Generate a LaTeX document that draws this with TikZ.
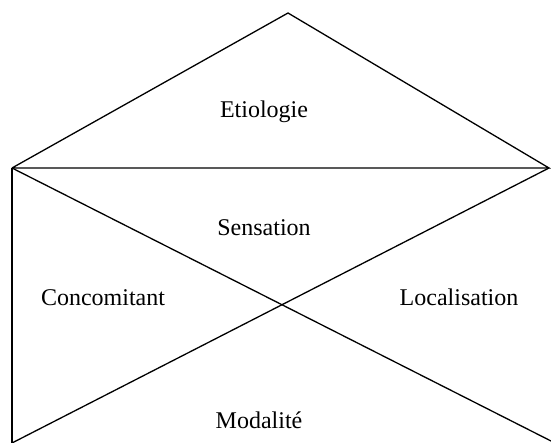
\documentclass[tikz,border=0pt]{standalone}
\usepackage{fontspec}
\setmainfont{Liberation Serif}
\usetikzlibrary{positioning}
\usetikzlibrary{calc}

\begin{document}
\begin{tikzpicture}[x=1pt,y=-1pt,line width=1.3pt,
                    zone node/.style={font=\fontsize{24}{28}\selectfont,inner sep=1pt}]
      \useasboundingbox (0,0) rectangle (551,443);
      \coordinate (apex) at (288,13);
      \coordinate (tl) at (12,168);
      \coordinate (tr) at (549,168);
      \coordinate (bl) at (12,443);
      \coordinate (br) at (551,441);

      \draw (tl) -- (apex) -- (tr) -- (tl);
      \draw (tl) -- (bl);
      \draw (tl) -- (br);
      \draw (bl) -- (tr);

      \node[zone node] (etio) at (264,112) {Etiologie};
      \node[zone node] (sens) at (264,228) {Sensation};
      \node[zone node] (conc) at (103,298) {Concomitant};
      \node[zone node] (loca) at (459,297) {Localisation};
      \node[zone node] (moda) at (259,420) {Modalité};
\end{tikzpicture}
\end{document}
